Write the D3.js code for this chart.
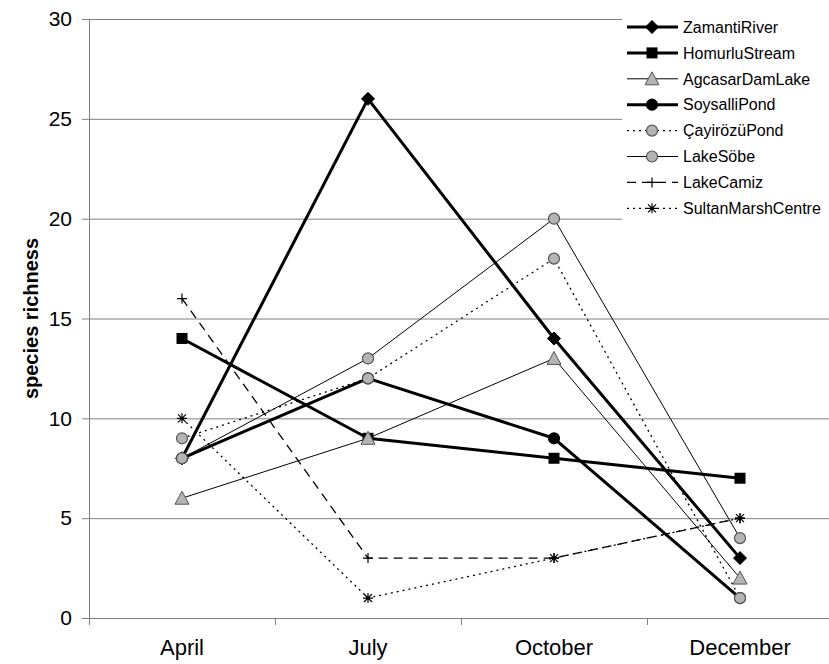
<!DOCTYPE html>
<html><head><meta charset="utf-8">
<script src="https://cdn.jsdelivr.net/npm/d3@7"></script>
<style>body{margin:0;background:#fff}svg{display:block;font-family:"Liberation Sans",Arial,sans-serif}</style>
</head><body>
<svg id="c" width="829" height="664"></svg>
<script>
const months = ["April","July","October","December"];
const seriesNames = ["ZamantiRiver","HomurluStream","AgcasarDamLake","SoysalliPond","ÇayirözüPond","LakeSöbe","LakeCamiz","SultanMarshCentre"];
const zamantiRiver = [8,26,14,3];
const homurluStream = [14,9,8,7];
const agcasarDamLake = [6,9,13,2];
const soysalliPond = [8,12,9,1];
const cayirozuPond = [9,12,18,1];
const lakeSobe = [8,13,20,4];
const lakeCamiz = [16,3,3,5];
const sultanMarshCentre = [10,1,3,5];
const yTicks = [0,5,10,15,20,25,30];
const yTitle = "species richness";

(function(){
const values = [zamantiRiver,homurluStream,agcasarDamLake,soysalliPond,cayirozuPond,lakeSobe,lakeCamiz,sultanMarshCentre];
const styles = [
  {w:3, dash:null, marker:"diamond", fill:"#000", stroke:"#000"},
  {w:3, dash:null, marker:"square", fill:"#000", stroke:"#000"},
  {w:1, dash:null, marker:"triangle", fill:"#b4b4b4", stroke:"#555"},
  {w:3, dash:null, marker:"circle", fill:"#000", stroke:"#000"},
  {w:1.3, dash:"2,4", marker:"circle", fill:"#b4b4b4", stroke:"#555"},
  {w:1, dash:null, marker:"circle", fill:"#b4b4b4", stroke:"#555"},
  {w:1.3, dash:"9,6", marker:"plus", fill:"none", stroke:"#000"},
  {w:1.3, dash:"2,4", marker:"asterisk", fill:"none", stroke:"#000"}
];

const svg = d3.select("#c");
const pl = 89, pr = 833, pt = 19, pb = 618;
const x = d3.scaleBand().domain(months).range([pl, pr]).padding(0);
const xc = m => x(m) + x.bandwidth()/2;
const y = d3.scaleLinear().domain([0,30]).range([pb, pt]);

svg.append("g").selectAll("line").data(yTicks.filter(t=>t>0)).join("line")
  .attr("x1", pl).attr("x2", pr).attr("y1", d=>y(d)+0.5).attr("y2", d=>y(d)+0.5)
  .attr("stroke", "#808080").attr("stroke-width", 1);

const ya = svg.append("g").attr("transform", `translate(${pl},0)`)
  .call(d3.axisLeft(y).tickValues(yTicks).tickSize(7).tickPadding(10));
ya.select(".domain").attr("stroke","#808080").attr("d", `M0.5,${pt}V${pb+7}`);
ya.selectAll(".tick line").attr("stroke","#808080");
ya.selectAll("text").attr("font-size", 21).attr("fill","#000").attr("font-family","Liberation Sans, Arial, sans-serif");

const xa = svg.append("g").attr("transform", `translate(0,${pb})`)
  .call(d3.axisBottom(x).tickSize(0).tickPadding(21));
xa.select(".domain").attr("stroke","#808080").attr("d", `M${pl},0.5H${pr}`);
xa.selectAll("text").attr("font-size", 22).attr("fill","#000").attr("font-family","Liberation Sans, Arial, sans-serif");
svg.append("g").selectAll("line").data(months.map(m=>x(m)).concat([pr])).join("line")
  .attr("x1", d=>d+0.5).attr("x2", d=>d+0.5).attr("y1", pb).attr("y2", pb+7)
  .attr("stroke","#808080");

svg.append("text").attr("transform", `translate(38,${(pt+pb)/2}) rotate(-90)`)
  .attr("text-anchor","middle").attr("font-size", 20).attr("font-weight","bold").text(yTitle);

function drawMarker(g, type, cx, cy, st) {
  if (type === "diamond") {
    g.append("path").attr("d", `M${cx},${cy-6.5}L${cx+6.5},${cy}L${cx},${cy+6.5}L${cx-6.5},${cy}Z`)
      .attr("fill", st.fill).attr("stroke", st.stroke);
  } else if (type === "square") {
    g.append("rect").attr("x", cx-5.5).attr("y", cy-5.5).attr("width", 11).attr("height", 11).attr("fill", st.fill);
  } else if (type === "triangle") {
    g.append("path").attr("d", `M${cx},${cy-7}L${cx+7},${cy+6}L${cx-7},${cy+6}Z`).attr("fill", st.fill).attr("stroke", st.stroke).attr("stroke-width",1);
  } else if (type === "circle") {
    g.append("circle").attr("cx", cx).attr("cy", cy).attr("r", 5.5).attr("fill", st.fill).attr("stroke", st.stroke).attr("stroke-width", 1.2);
  } else if (type === "plus") {
    g.append("path").attr("d", `M${cx-5},${cy}H${cx+5}M${cx},${cy-5}V${cy+5}`).attr("stroke","#000").attr("stroke-width",1.2);
  } else if (type === "asterisk") {
    g.append("path").attr("d", `M${cx-5},${cy}H${cx+5}M${cx},${cy-5}V${cy+5}M${cx-4},${cy-4}L${cx+4},${cy+4}M${cx-4},${cy+4}L${cx+4},${cy-4}`).attr("stroke","#000").attr("stroke-width",1.2);
  }
}

const line = d3.line().x((d,i)=>xc(months[i])).y(d=>y(d));
const plot = svg.append("g");
values.forEach((vals, si) => {
  const st = styles[si];
  const g = plot.append("g");
  g.append("path").attr("d", line(vals)).attr("fill","none").attr("stroke","#000")
    .attr("stroke-width", st.w).attr("stroke-dasharray", st.dash).attr("stroke-linejoin","round");
  vals.forEach((v,i) => drawMarker(g, st.marker, xc(months[i]), y(v), st));
});

const lg = svg.append("g");
lg.append("rect").attr("x", 622).attr("y", 4).attr("width", 220).attr("height", 218).attr("fill","#fff");
seriesNames.forEach((name, i) => {
  const st = styles[i];
  const cy = 27 + i*25.9;
  const g = lg.append("g");
  g.append("line").attr("x1", 627).attr("x2", 678).attr("y1", cy).attr("y2", cy)
    .attr("stroke","#000").attr("stroke-width", st.w).attr("stroke-dasharray", st.dash);
  drawMarker(g, st.marker, 652, cy, st);
  g.append("text").attr("x", 683).attr("y", cy).attr("dy","0.36em").attr("font-size", 16).text(name);
});
})();
</script>
</body></html>
